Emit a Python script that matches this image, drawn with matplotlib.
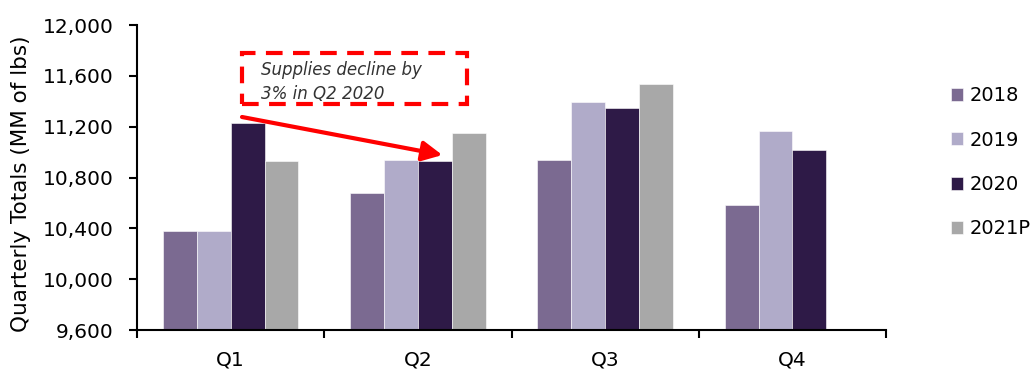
import matplotlib
matplotlib.use("Agg")
import matplotlib.pyplot as plt
import numpy as np

quarters = ["Q1", "Q2", "Q3", "Q4"]
years = ["2018", "2019", "2020", "2021P"]
supply_2018 = [10380, 10680, 10935, 10580]
supply_2019 = [10380, 10940, 11395, 11165]
supply_2020 = [11230, 10932, 11350, 11020]
supply_2021p = [10932, 11150, 11536, np.nan]
colors = ["#7b6a91", "#b0abc9", "#2e1a47", "#a8a8a8"]

yticks = [9600, 10000, 10400, 10800, 11200, 11600, 12000]

plt.rcParams["font.family"] = ["DejaVu Sans"]

fig = plt.figure(figsize=(10.34, 3.71), dpi=100)
ax = fig.add_axes([0.1325, 0.1105, 0.7245, 0.822])

series = [supply_2018, supply_2019, supply_2020, supply_2021p]
x = np.arange(len(quarters))
w = 0.181
for i, (vals, col, lab) in enumerate(zip(series, colors, years)):
    ax.bar(x + (i - 1.5) * w, vals, width=w, color=col, label=lab,
           edgecolor="white", linewidth=0.4)

ax.set_ylim(9600, 12000)
ax.set_xlim(-0.5, 3.5)
ax.set_yticks(yticks)
ax.set_yticklabels([f"{v:,}" for v in yticks], fontsize=14.5)
ax.set_xticks(x)
ax.set_xticklabels(quarters, fontsize=14.5)
ax.tick_params(axis="x", length=0, pad=15)
ax.set_xticks(np.arange(-0.5, 3.6, 1), minor=True)
ax.tick_params(axis="x", which="minor", length=6, width=1.5, direction="out")
ax.tick_params(axis="y", length=6, width=1.5, direction="out", pad=11)

for s in ["top", "right"]:
    ax.spines[s].set_visible(False)
for s in ["left", "bottom"]:
    ax.spines[s].set_linewidth(1.5)

ax.set_ylabel("Quarterly Totals (MM of lbs)", fontsize=15.5)
ax.yaxis.set_label_coords(-0.142, 0.48)

leg = ax.legend(loc="center left", bbox_to_anchor=(1.063, 0.55), frameon=False,
                fontsize=14, handlelength=0.65, handleheight=0.65,
                handletextpad=0.3, labelspacing=1.3)

# callout box and arrow pointing at the Q2 2020 bar
fig.patches.append(plt.Rectangle((242 / 1034, 1 - 104 / 371), 225 / 1034, 51 / 371,
                                 transform=fig.transFigure, fill=False,
                                 edgecolor="#ff0000", linewidth=3,
                                 linestyle=(0, (4, 2.5))))
fig.text(261 / 1034, 1 - 82 / 371, "Supplies decline by\n3% in Q2 2020",
         fontsize=12, style="italic", color="#333333", va="center",
         linespacing=1.4)

ax.annotate("", xy=(1 + 0.5 * w + 0.04, supply_2020[1] + 45),
            xytext=(242 / 1034, 1 - 117 / 371), textcoords="figure fraction",
            arrowprops=dict(arrowstyle="-|>,head_length=1.2,head_width=0.6",
                            color="#ff0000", lw=3, shrinkA=0, shrinkB=0))

fig.savefig("out.png", dpi=100)
